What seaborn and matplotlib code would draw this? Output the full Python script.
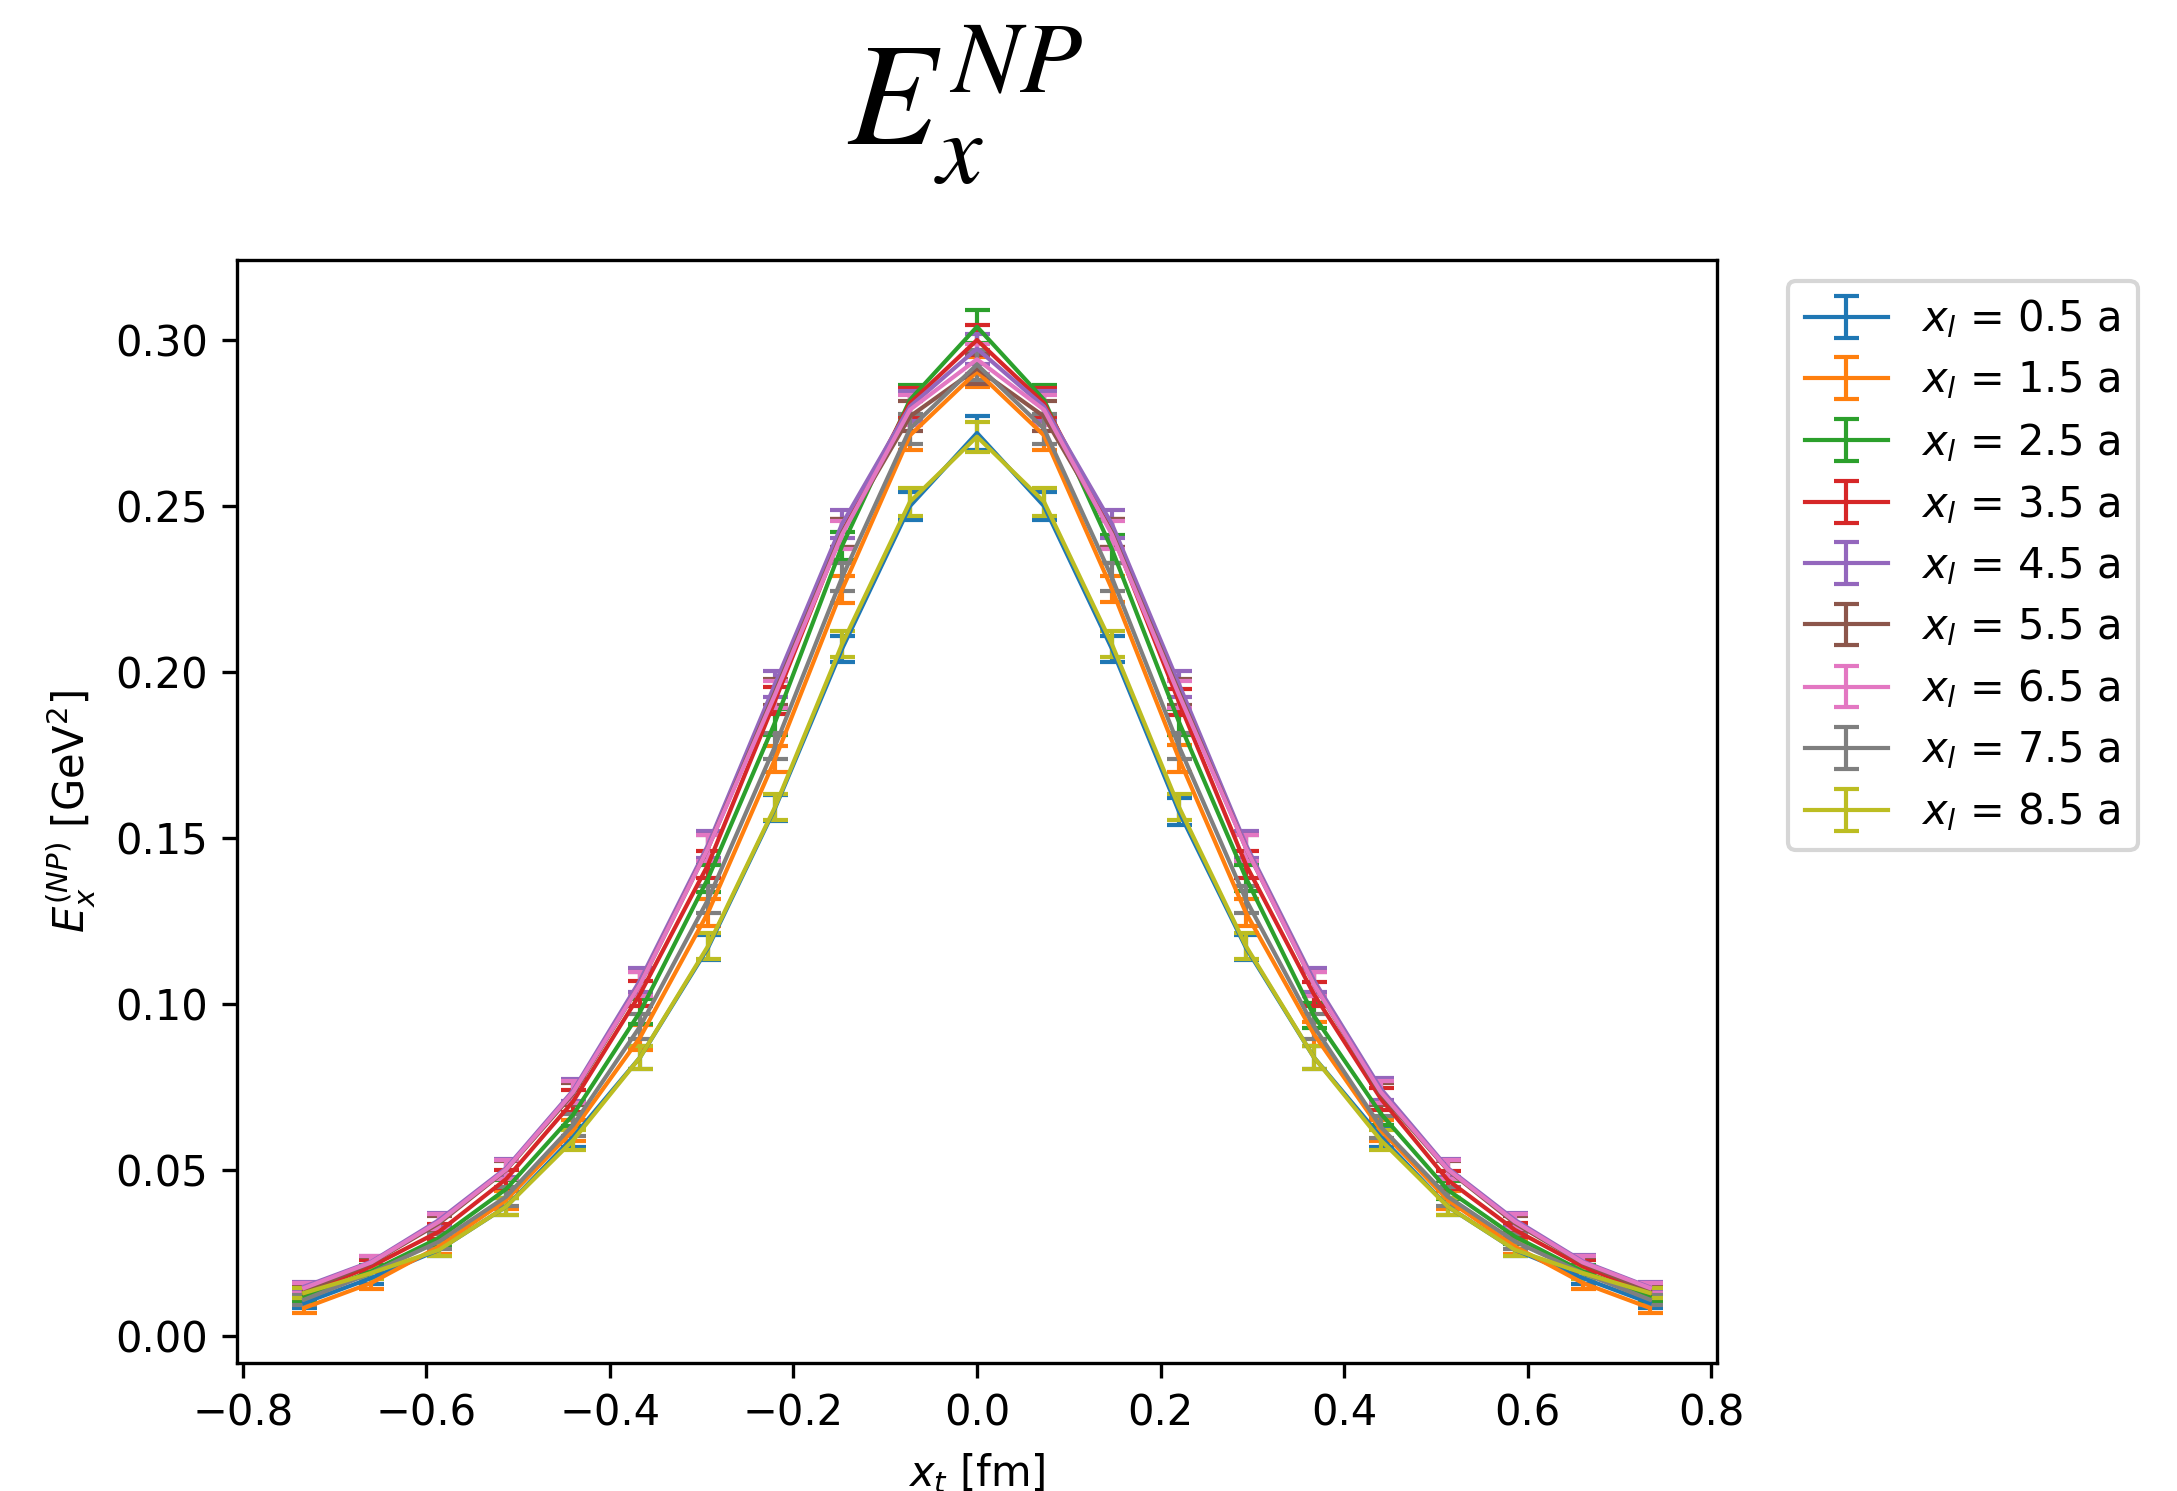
import numpy as np
import matplotlib
matplotlib.use("Agg")
import matplotlib.pyplot as plt
import seaborn as sns

# x positions (fm)
x_t = [-0.733, -0.660, -0.586, -0.513, -0.440, -0.367, -0.293, -0.220, -0.147, -0.073, 0.0,
       0.073, 0.147, 0.220, 0.293, 0.367, 0.440, 0.513, 0.586, 0.660, 0.733]

labels = ["0.5", "1.5", "2.5", "3.5", "4.5", "5.5", "6.5", "7.5", "8.5"]

e_05 = [0.010, 0.0175, 0.026, 0.039, 0.060, 0.084, 0.117, 0.159, 0.207, 0.250, 0.272,
        0.250, 0.207, 0.158, 0.117, 0.084, 0.060, 0.039, 0.026, 0.0175, 0.010]
e_15 = [0.0085, 0.016, 0.027, 0.041, 0.062, 0.090, 0.1276, 0.1738, 0.2248, 0.2713, 0.2905,
        0.2713, 0.2250, 0.1740, 0.1275, 0.091, 0.062, 0.041, 0.027, 0.016, 0.0085]
e_25 = [0.012, 0.0195, 0.0296, 0.0443, 0.0667, 0.0977, 0.1379, 0.1849, 0.238, 0.282, 0.304,
        0.282, 0.237, 0.185, 0.138, 0.0965, 0.067, 0.044, 0.030, 0.0195, 0.012]
e_35 = [0.013, 0.021, 0.0315, 0.0473, 0.0707, 0.1031, 0.142, 0.1914, 0.242, 0.281, 0.300,
        0.281, 0.242, 0.191, 0.142, 0.103, 0.0715, 0.047, 0.032, 0.021, 0.013]
e_45 = [0.0149, 0.0224, 0.035, 0.0506, 0.0740, 0.1072, 0.148, 0.1964, 0.2446, 0.280, 0.2974,
        0.280, 0.2446, 0.1964, 0.148, 0.1072, 0.0745, 0.0506, 0.035, 0.0225, 0.0147]
e_55 = [0.0135, 0.022, 0.034, 0.050, 0.073, 0.106, 0.147, 0.194, 0.242, 0.277, 0.2914,
        0.277, 0.242, 0.194, 0.147, 0.106, 0.073, 0.050, 0.034, 0.022, 0.0135]
e_65 = [0.0145, 0.0222, 0.0345, 0.0502, 0.0735, 0.106, 0.147, 0.1932, 0.2414, 0.279, 0.2942,
        0.279, 0.2414, 0.1932, 0.147, 0.106, 0.0735, 0.0502, 0.0345, 0.0222, 0.0145]
e_75 = [0.011, 0.019, 0.0285, 0.042, 0.0636, 0.0933, 0.1315, 0.1777, 0.2285, 0.2733, 0.2926,
        0.2733, 0.2285, 0.1777, 0.1315, 0.0933, 0.063, 0.042, 0.0285, 0.019, 0.011]
e_85 = [0.013, 0.019, 0.026, 0.039, 0.059, 0.084, 0.1175, 0.1594, 0.2084, 0.2513, 0.2709,
        0.2513, 0.2084, 0.1594, 0.1175, 0.084, 0.059, 0.039, 0.026, 0.019, 0.013]

err_05 = [0.0015, 0.0018, 0.002, 0.0025, 0.003, 0.0035, 0.0038, 0.004, 0.004, 0.0042, 0.005,
          0.0042, 0.004, 0.004, 0.0038, 0.0035, 0.003, 0.0025, 0.002, 0.0018, 0.0015]
err_15 = [0.0015, 0.0018, 0.0022, 0.0028, 0.0032, 0.0037, 0.004, 0.004, 0.004, 0.0045, 0.0045,
          0.0045, 0.004, 0.004, 0.004, 0.0037, 0.0032, 0.0028, 0.0022, 0.0018, 0.0015]
err_25 = [0.0015, 0.0018, 0.0022, 0.0028, 0.0033, 0.0037, 0.004, 0.004, 0.0042, 0.0045, 0.005,
          0.0045, 0.0042, 0.004, 0.004, 0.0037, 0.0033, 0.0028, 0.0022, 0.0018, 0.0015]
err_35 = [0.0015, 0.0018, 0.0022, 0.0028, 0.0033, 0.0037, 0.004, 0.004, 0.0042, 0.0045, 0.0045,
          0.0045, 0.0042, 0.004, 0.004, 0.0037, 0.0033, 0.0028, 0.0022, 0.0018, 0.0015]
err_45 = [0.0015, 0.0018, 0.0022, 0.0028, 0.0033, 0.0037, 0.004, 0.004, 0.0042, 0.0045, 0.0045,
          0.0045, 0.0042, 0.004, 0.004, 0.0037, 0.0033, 0.0028, 0.0022, 0.0018, 0.0015]
err_55 = [0.0015, 0.0018, 0.0022, 0.0028, 0.0033, 0.0037, 0.004, 0.004, 0.0042, 0.0045, 0.0045,
          0.0045, 0.0042, 0.004, 0.004, 0.0037, 0.0033, 0.0028, 0.0022, 0.0018, 0.0015]
err_65 = [0.0015, 0.0018, 0.0022, 0.0028, 0.0033, 0.0037, 0.004, 0.004, 0.0042, 0.0045, 0.0045,
          0.0045, 0.0042, 0.004, 0.004, 0.0037, 0.0033, 0.0028, 0.0022, 0.0018, 0.0015]
err_75 = [0.0015, 0.0018, 0.0022, 0.0028, 0.0033, 0.0037, 0.004, 0.004, 0.0042, 0.0045, 0.0045,
          0.0045, 0.0042, 0.004, 0.004, 0.0037, 0.0033, 0.0028, 0.0022, 0.0018, 0.0015]
err_85 = [0.0015, 0.0018, 0.002, 0.0025, 0.003, 0.0035, 0.0038, 0.004, 0.004, 0.0042, 0.0045,
          0.0042, 0.004, 0.004, 0.0038, 0.0035, 0.003, 0.0025, 0.002, 0.0018, 0.0015]

series = [e_05, e_15, e_25, e_35, e_45, e_55, e_65, e_75, e_85]
errors = [err_05, err_15, err_25, err_35, err_45, err_55, err_65, err_75, err_85]

palette = sns.color_palette("tab10", len(series))

W, H, DPI = 2177, 1491, 300
fig = plt.figure(figsize=(W / DPI, H / DPI), dpi=DPI)
ax = fig.add_axes([237 / W, 1 - 1363 / H, (1717 - 237) / W, (1363 - 260) / H])

for vals, errs, lab, col in zip(series, errors, labels, palette):
    ax.errorbar(x_t, vals, yerr=errs, color=col, lw=1.0, capsize=3,
                label=r"$x_l$ = " + lab + " a")

ax.set_xticks([-0.8, -0.6, -0.4, -0.2, 0.0, 0.2, 0.4, 0.6, 0.8])
ax.set_yticks([0.00, 0.05, 0.10, 0.15, 0.20, 0.25, 0.30])
ax.set_xlabel(r"$x_t$ [fm]")
ax.set_ylabel(r"$E_x^{(NP)}$ [GeV$^2$]")
ax.legend(loc="upper left", bbox_to_anchor=(1.034, 1.0), borderaxespad=0.5,
          labelspacing=0.46)

fig.text(965 / W, 1 - 145 / H, r"$E_x^{NP}$", fontsize=35, ha="center",
         va="baseline", math_fontfamily="stix")

fig.savefig("out.png", dpi=DPI)
